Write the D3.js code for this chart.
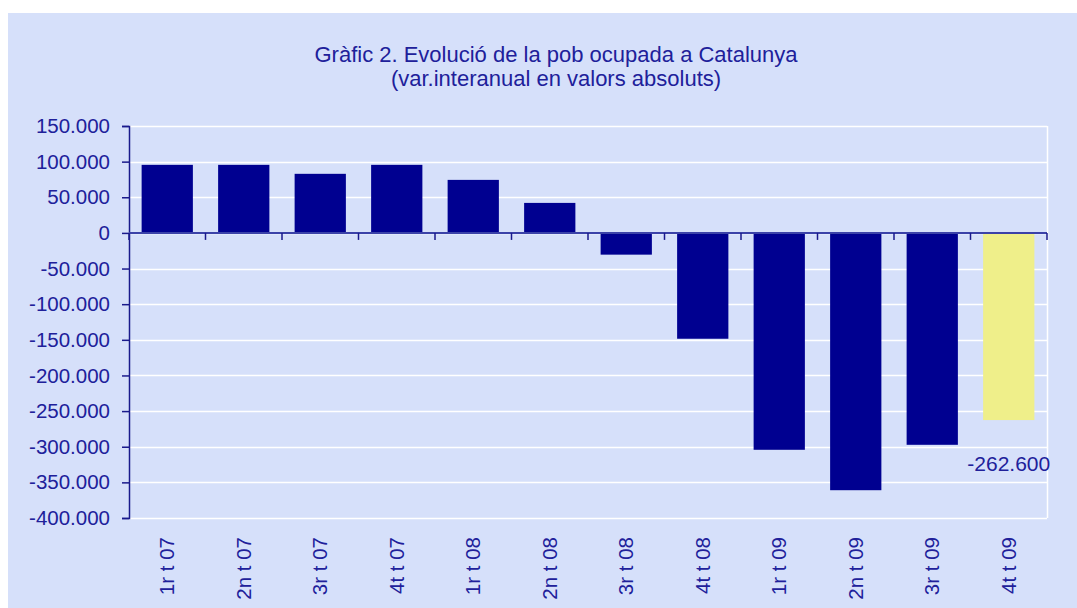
<!DOCTYPE html>
<html>
<head>
<meta charset="utf-8">
<script src="https://cdn.jsdelivr.net/npm/d3@7"></script>
<style>
  html, body { margin: 0; padding: 0; background: #ffffff; }
  svg { display: block; font-family: "Liberation Sans", Arial, sans-serif; }
</style>
</head>
<body>
<div id="canvas"></div>
<script>
// dades
const quarters = ["1r t 07", "2n t 07", "3r t 07", "4t t 07", "1r t 08", "2n t 08",
                  "3r t 08", "4t t 08", "1r t 09", "2n t 09", "3r t 09", "4t t 09"];
const variation = [95500, 95500, 82900, 95500, 74400, 42100,
                   -30500, -148500, -304300, -361000, -297300, -262600];
const yTicks = [150000, 100000, 50000, 0, -50000, -100000, -150000, -200000,
                -250000, -300000, -350000, -400000];
const titleLines = ["Gràfic 2. Evolució de la pob ocupada a Catalunya",
                    "(var.interanual en valors absoluts)"];
const highlighted = "4t t 09";

const width = 1077, height = 608;
const margin = { top: 126, left: 129, bottom: 90, right: 30 };
const iwidth = width - margin.left - margin.right;
const iheight = height - margin.top - margin.bottom;

const textColor = "#20209a";
const axisColor = "#1a1a8c";

const svg = d3.select("#canvas").append("svg")
    .attr("width", width)
    .attr("height", height);

// fons del gràfic
svg.append("rect")
    .attr("x", 8).attr("y", 13)
    .attr("width", width - 8).attr("height", height - 13)
    .attr("fill", "#d6e0fa");

svg.append("text")
    .attr("x", 556)
    .attr("y", 62)
    .attr("text-anchor", "middle")
    .attr("fill", textColor)
    .style("font-size", "22px")
    .selectAll("tspan")
    .data(titleLines)
    .join("tspan")
    .attr("x", 556)
    .attr("dy", (d, i) => i === 0 ? 0 : 24)
    .text(d => d);

const g = svg.append("g").attr("transform", `translate(${margin.left},${margin.top})`);

const y = d3.scaleLinear()
    .domain([-400000, 150000])
    .range([iheight, 0]);

const x = d3.scaleBand()
    .domain(quarters)
    .range([0, iwidth])
    .paddingInner(0.33)
    .paddingOuter(0.165);

const fmt = v => d3.format(",")(v).replace(/,/g, ".").replace("−", "-");

// graella
g.append("g")
    .selectAll("line")
    .data(yTicks)
    .join("line")
    .attr("x1", 0).attr("x2", iwidth)
    .attr("y1", d => Math.round(y(d)) + 0.5)
    .attr("y2", d => Math.round(y(d)) + 0.5)
    .attr("stroke", "#ffffff")
    .attr("stroke-width", 1.5);

g.append("line")
    .attr("x1", iwidth + 0.5).attr("x2", iwidth + 0.5)
    .attr("y1", 0).attr("y2", iheight)
    .attr("stroke", "#ffffff")
    .attr("stroke-width", 1.5);

// barres
const data = quarters.map((q, i) => ({ q: q, v: variation[i] }));

g.selectAll("rect.bar")
    .data(data)
    .join("rect")
    .attr("class", "bar")
    .attr("x", d => x(d.q))
    .attr("y", d => y(Math.max(0, d.v)))
    .attr("width", x.bandwidth())
    .attr("height", d => Math.abs(y(d.v) - y(0)))
    .attr("fill", d => d.q === highlighted ? "#efef8a" : "#000090");

// etiqueta de l'última barra
const last = data[data.length - 1];
g.append("text")
    .attr("x", x(last.q) + x.bandwidth() / 2)
    .attr("y", y(last.v) + 51)
    .attr("text-anchor", "middle")
    .attr("fill", textColor)
    .style("font-size", "21px")
    .text(fmt(last.v));

// eix Y
const yAxis = g.append("g")
    .call(d3.axisLeft(y).tickValues(yTicks).tickFormat(fmt).tickSize(7).tickPadding(12));
yAxis.select(".domain").attr("stroke", axisColor).attr("stroke-width", 1.5);
yAxis.selectAll(".tick line").attr("stroke", axisColor).attr("stroke-width", 1.5);
yAxis.selectAll(".tick text")
    .attr("fill", textColor)
    .style("font-size", "20.5px")
    .style("font-family", "'Liberation Sans', Arial, sans-serif");

// eix X a zero amb marques entre categories
const zero = g.append("g").attr("transform", `translate(0,${y(0)})`);
zero.append("line")
    .attr("x1", 0).attr("x2", iwidth)
    .attr("stroke", "#3b42a8")
    .attr("stroke-width", 2);
const boundaries = d3.range(quarters.length + 1).map(i => i * x.step());
zero.selectAll("line.tick")
    .data(boundaries)
    .join("line")
    .attr("class", "tick")
    .attr("x1", d => d).attr("x2", d => d)
    .attr("y1", 0).attr("y2", 7)
    .attr("stroke", axisColor)
    .attr("stroke-width", 1.5);

// etiquetes de categoria, verticals
g.append("g")
    .selectAll("text")
    .data(quarters)
    .join("text")
    .attr("transform", d => `translate(${x(d) + x.bandwidth() / 2 + 7},${iheight + 19}) rotate(-90)`)
    .attr("text-anchor", "end")
    .attr("fill", textColor)
    .style("font-size", "20.5px")
    .text(d => d);
</script>
</body>
</html>
